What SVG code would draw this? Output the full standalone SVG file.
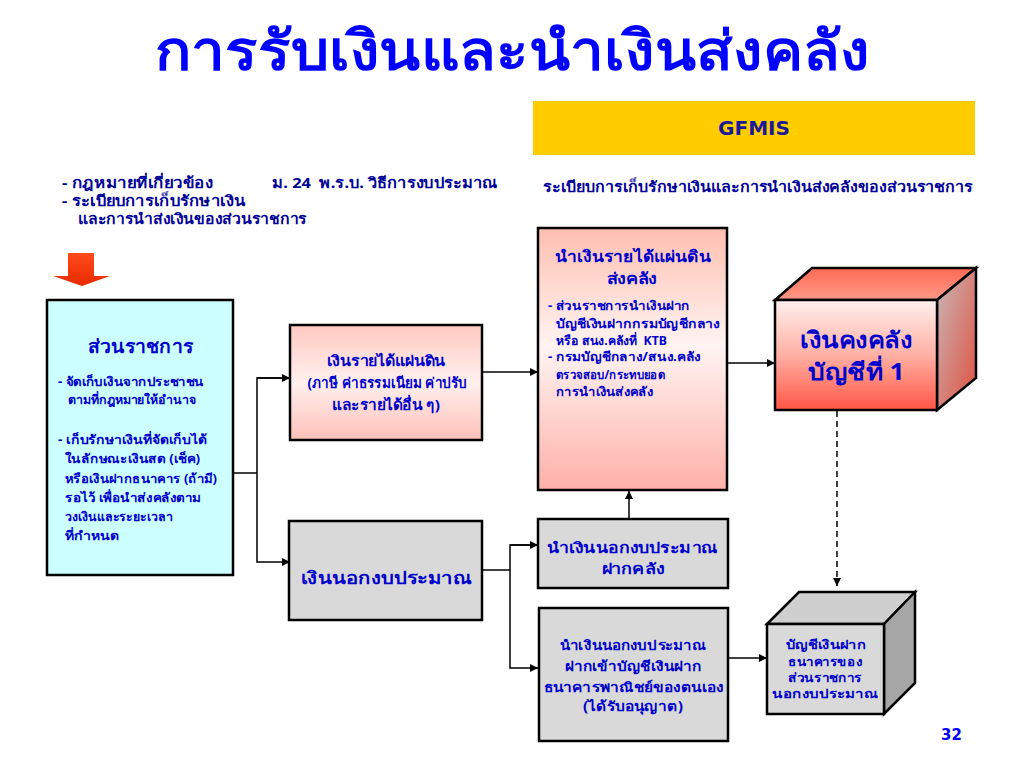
<svg xmlns="http://www.w3.org/2000/svg" width="1024" height="768" viewBox="0 0 1024 768">
<defs>
<style>
text{font-family:"Noto Sans","DejaVu Sans",sans-serif;font-weight:bold;fill:#0000CC}
.c{text-anchor:middle}
.lat{font-family:"DejaVu Sans","Noto Sans",sans-serif}
.pre{white-space:pre}
.box{stroke:#000;stroke-width:2.5}
.ln{fill:none;stroke:#000;stroke-width:1.5}
.s12{font-size:12.5px}
.s13{font-size:13.5px}
.s14{font-size:14.5px}
.dk{fill:#000099}
</style>
<linearGradient id="pink" x1="0" y1="0" x2="0" y2="1">
<stop offset="0" stop-color="#FFC9C0"/><stop offset="0.5" stop-color="#FFF0EE"/><stop offset="1" stop-color="#FFC0B8"/>
</linearGradient>
<linearGradient id="pink3" x1="0" y1="0" x2="0" y2="1">
<stop offset="0" stop-color="#FFBFB0"/><stop offset="0.45" stop-color="#FFF4F2"/><stop offset="1" stop-color="#FFB0A8"/>
</linearGradient>
<linearGradient id="redfront" x1="0" y1="0" x2="0" y2="1">
<stop offset="0" stop-color="#FFF0EE"/><stop offset="0.5" stop-color="#FFB0A4"/><stop offset="1" stop-color="#FF5544"/>
</linearGradient>
<linearGradient id="redtop" x1="0" y1="0" x2="0" y2="1">
<stop offset="0" stop-color="#FF6A55"/><stop offset="1" stop-color="#FF9A88"/>
</linearGradient>
<linearGradient id="redside" x1="0" y1="0" x2="1" y2="1">
<stop offset="0" stop-color="#C8B8B8"/><stop offset="1" stop-color="#E05040"/>
</linearGradient>
<linearGradient id="redarrow" x1="0" y1="0" x2="0" y2="1">
<stop offset="0" stop-color="#FF4A1A"/><stop offset="1" stop-color="#E82A00"/>
</linearGradient>
<marker id="ah" viewBox="0 0 10 10" refX="10" refY="5" markerWidth="8" markerHeight="8" markerUnits="userSpaceOnUse" orient="auto">
<path d="M0,0 L10,5 L0,10 z" fill="#000"/>
</marker>
</defs>
<rect width="1024" height="768" fill="#fff"/>

<text x="155" y="70" textLength="715" lengthAdjust="spacingAndGlyphs" style="font-size:55px;fill:#0000FF">การรับเงินและนำเงินส่งคลัง</text>

<g id="gfmis">
<rect x="533" y="101" width="442" height="54" fill="#FFCC00"/>
<text class="c lat" x="754" y="135" textLength="72" lengthAdjust="spacingAndGlyphs" style="font-size:19.5px;fill:#1A1A99">GFMIS</text>
</g>
<text x="543" y="192" class="s14 dk" textLength="430" lengthAdjust="spacingAndGlyphs">ระเบียบการเก็บรักษาเงินและการนำเงินส่งคลังของส่วนราชการ</text>

<g id="law">
<text x="62" y="188" class="s14 dk" textLength="151" lengthAdjust="spacingAndGlyphs">- กฎหมายที่เกี่ยวข้อง</text>
<text x="272" y="188" class="s14 dk pre" textLength="225" lengthAdjust="spacingAndGlyphs">ม. 24  พ.ร.บ. วิธีการงบประมาณ</text>
<text x="62" y="206" class="s14 dk" textLength="183" lengthAdjust="spacingAndGlyphs">- ระเบียบการเก็บรักษาเงิน</text>
<text x="78" y="224" class="s14 dk" textLength="229" lengthAdjust="spacingAndGlyphs">และการนำส่งเงินของส่วนราชการ</text>
</g>

<g id="redArrow">
<polygon points="68,253 94,253 94,276 110,276 82,286 53,276 68,276" fill="url(#redarrow)"/>
</g>

<g id="agency">
<rect class="box" x="47" y="300" width="186" height="275" fill="#CCFFFF"/>
<text x="88" y="353" textLength="105" lengthAdjust="spacingAndGlyphs" style="font-size:19px">ส่วนราชการ</text>
<text class="s12" x="58" y="386" textLength="146" lengthAdjust="spacingAndGlyphs">- จัดเก็บเงินจากประชาชน</text>
<text class="s12" x="68" y="404" textLength="128" lengthAdjust="spacingAndGlyphs">ตามที่กฎหมายให้อำนาจ</text>
<text class="s12" x="58" y="444" textLength="149" lengthAdjust="spacingAndGlyphs">- เก็บรักษาเงินที่จัดเก็บได้</text>
<text class="s12" x="65" y="463" textLength="135" lengthAdjust="spacingAndGlyphs">ในลักษณะเงินสด (เช็ค)</text>
<text class="s12" x="65" y="483" textLength="152" lengthAdjust="spacingAndGlyphs">หรือเงินฝากธนาคาร (ถ้ามี)</text>
<text class="s12" x="65" y="502" textLength="136" lengthAdjust="spacingAndGlyphs">รอไว้ เพื่อนำส่งคลังตาม</text>
<text class="s12" x="65" y="521" textLength="108" lengthAdjust="spacingAndGlyphs">วงเงินและระยะเวลา</text>
<text class="s12" x="65" y="540" textLength="54" lengthAdjust="spacingAndGlyphs">ที่กำหนด</text>
</g>

<g id="revenue">
<rect class="box" x="290" y="325" width="192" height="115" fill="url(#pink)"/>
<text class="c s14" x="386" y="366" textLength="119" lengthAdjust="spacingAndGlyphs">เงินรายได้แผ่นดิน</text>
<text class="c s14" x="387" y="388" textLength="159" lengthAdjust="spacingAndGlyphs">(ภาษี ค่าธรรมเนียม ค่าปรับ</text>
<text class="c s14" x="386" y="410" textLength="108" lengthAdjust="spacingAndGlyphs">และรายได้อื่น ๆ)</text>
</g>

<g id="deliver">
<rect class="box" x="538" y="228" width="189" height="262" fill="url(#pink3)"/>
<text class="c" x="633" y="262" textLength="156" lengthAdjust="spacingAndGlyphs" style="font-size:15.5px">นำเงินรายได้แผ่นดิน</text>
<text class="c" x="632" y="284" textLength="51" lengthAdjust="spacingAndGlyphs" style="font-size:15.5px">ส่งคลัง</text>
<text class="s12" x="548" y="310" textLength="142" lengthAdjust="spacingAndGlyphs">- ส่วนราชการนำเงินฝาก</text>
<text class="s12" x="556" y="328" textLength="164" lengthAdjust="spacingAndGlyphs">บัญชีเงินฝากกรมบัญชีกลาง</text>
<text class="s12 pre" x="556" y="345" textLength="111" lengthAdjust="spacingAndGlyphs">หรือ สนง.คลังที่  KTB</text>
<text class="s12" x="548" y="361" textLength="153" lengthAdjust="spacingAndGlyphs">- กรมบัญชีกลาง/สนง.คลัง</text>
<text class="s12" x="556" y="379" textLength="109" lengthAdjust="spacingAndGlyphs">ตรวจสอบ/กระทบยอด</text>
<text class="s12" x="556" y="396" textLength="97" lengthAdjust="spacingAndGlyphs">การนำเงินส่งคลัง</text>
</g>

<g id="treasury">
<polygon points="775,300 812,268 976,268 937,300" fill="url(#redtop)" class="box"/>
<polygon points="937,300 976,268 976,378 937,410" fill="url(#redside)" class="box"/>
<rect class="box" x="775" y="300" width="162" height="110" fill="url(#redfront)"/>
<text class="c" x="856" y="348" textLength="112" lengthAdjust="spacingAndGlyphs" style="font-size:23px">เงินคงคลัง</text>
<text class="c" x="856" y="380" textLength="97" lengthAdjust="spacingAndGlyphs" style="font-size:23px">บัญชีที่ 1</text>
</g>

<g id="offbudget">
<rect class="box" x="289" y="521" width="193" height="99" fill="#D9D9D9"/>
<text class="c" x="386" y="584" textLength="171" lengthAdjust="spacingAndGlyphs" style="font-size:17.5px">เงินนอกงบประมาณ</text>
</g>

<g id="depositTreasury">
<rect class="box" x="538" y="519" width="190" height="69" fill="#D9D9D9"/>
<text class="c s14" x="632" y="553" textLength="170" lengthAdjust="spacingAndGlyphs">นำเงินนอกงบประมาณ</text>
<text class="c s14" x="633" y="574" textLength="63" lengthAdjust="spacingAndGlyphs">ฝากคลัง</text>
</g>

<g id="depositBank">
<rect class="box" x="539" y="608" width="189" height="133" fill="#D9D9D9"/>
<text class="c s13" x="633" y="650" textLength="147" lengthAdjust="spacingAndGlyphs">นำเงินนอกงบประมาณ</text>
<text class="c s13" x="633" y="671" textLength="137" lengthAdjust="spacingAndGlyphs">ฝากเข้าบัญชีเงินฝาก</text>
<text class="c s13" x="634" y="692" textLength="181" lengthAdjust="spacingAndGlyphs">ธนาคารพาณิชย์ของตนเอง</text>
<text class="c s13" x="633" y="711" textLength="100" lengthAdjust="spacingAndGlyphs">(ได้รับอนุญาต)</text>
</g>

<g id="bankAccount">
<polygon points="767,624 799,592 915,592 884,624" fill="#CFCFCF" class="box"/>
<polygon points="884,624 915,592 915,683 884,714" fill="#A6A6A6" class="box"/>
<rect class="box" x="767" y="624" width="117" height="90" fill="#D9D9D9"/>
<text class="c s12" x="826" y="649" textLength="80" lengthAdjust="spacingAndGlyphs">บัญชีเงินฝาก</text>
<text class="c s12" x="825" y="666" textLength="74" lengthAdjust="spacingAndGlyphs">ธนาคารของ</text>
<text class="c s12" x="825" y="682" textLength="74" lengthAdjust="spacingAndGlyphs">ส่วนราชการ</text>
<text class="c s12" x="825" y="698" textLength="106" lengthAdjust="spacingAndGlyphs">นอกงบประมาณ</text>
</g>

<g id="connectors">
<polyline class="ln" points="233,473 257,473"/>
<polyline class="ln" points="290,378 257,378 257,562 290,562" marker-end="url(#ah)"/>
<line class="ln" x1="257" y1="378" x2="290" y2="378" marker-end="url(#ah)"/>
<line class="ln" x1="482" y1="372" x2="538" y2="372" marker-end="url(#ah)"/>
<line class="ln" x1="727" y1="363" x2="775" y2="363" marker-end="url(#ah)"/>
<line class="ln" x1="629" y1="518" x2="629" y2="491" marker-end="url(#ah)"/>
<polyline class="ln" points="482,570 510,570"/>
<polyline class="ln" points="538,545 510,545 510,668 538,668" marker-end="url(#ah)"/>
<line class="ln" x1="510" y1="545" x2="538" y2="545" marker-end="url(#ah)"/>
<line class="ln" x1="728" y1="658" x2="767" y2="658" marker-end="url(#ah)"/>
<line class="ln" x1="837" y1="411" x2="837" y2="586" stroke-dasharray="6,4" marker-end="url(#ah)"/>
</g>

<text class="lat" x="941" y="740" style="font-size:15px;fill:#0000FF">32</text>
</svg>
